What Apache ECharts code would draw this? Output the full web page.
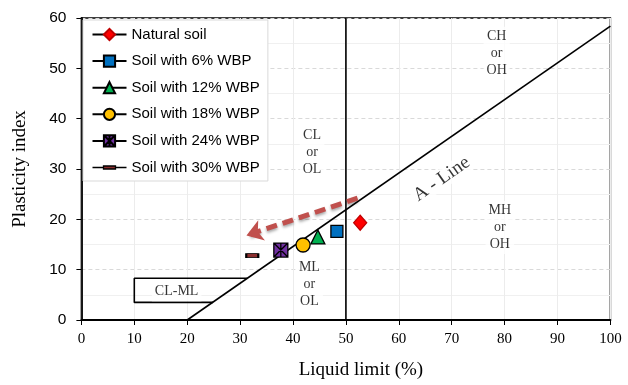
<!DOCTYPE html>
<html><head><meta charset="utf-8">
<script src="https://cdn.jsdelivr.net/npm/echarts@6/dist/echarts.min.js"></script>
<style>html,body{margin:0;padding:0;background:#fff}#c{width:628px;height:385px}</style>
</head><body><div id="c"></div>
<script>
// ---- data ----
const soilNames = ['Natural soil','Soil with 6% WBP','Soil with 12% WBP','Soil with 18% WBP','Soil with 24% WBP','Soil with 30% WBP'];
const liquidLimit = [52.7, 48.3, 44.7, 41.9, 37.7, 32.3];
const plasticityIndex = [19.3, 17.6, 16.5, 14.9, 13.9, 12.8];
const xTicks = [0,10,20,30,40,50,60,70,80,90,100];
const yTicks = [0,10,20,30,40,50,60];
const aLineLL = [20, 100];
const aLinePI = [0, 58.4];
const vLineLL = [50, 50];
const vLinePI = [0, 60];
const clmlLL = [31.4, 10, 10, 24.9];
const clmlPI = [8.3, 8.3, 3.5, 3.5];
const arrowLL = [52.2, 31.2];
const arrowPI = [24.2, 16.8];
const zoneLabels = ['CH\nor\nOH','MH\nor\nOH','CL\nor\nOL','ML\nor\nOL','CL-ML'];
const zoneLL = [78.5, 79.1, 43.6, 43.1, 18];
const zonePI = [53, 18.4, 33.3, 7, 5.6];

const symbols = [
  {symbol:'diamond', size:[13,15], color:'#FF0000', border:'#C00000'},
  {symbol:'rect', size:12, color:'#0070C0', border:'#000'},
  {symbol:'triangle', size:14, color:'#00B050', border:'#000'},
  {symbol:'circle', size:14, color:'#FFC000', border:'#000'},
  {symbol:'path://M0,0 L10,0 L10,10 L0,10 Z M0,0 L10,10 M10,0 L0,10 M5,0 L5,10', size:14, color:'#7030A0', border:'#000'},
  {symbol:'path://M0,0 L10,0 L10,3 L0,3 Z', size:[12,4], color:'#8B2E2E', border:'#000'}
];
const dashLegendIcon = 'path://M0,7 L11,7 M23,7 L34,7 M11,5.5 L23,5.5 L23,8.5 L11,8.5 Z';

const chart = echarts.init(document.getElementById('c'));
const serif = 'Liberation Serif';
const soilSeries = soilNames.map((n,i)=>({
  name:n, type:'line', data:[[liquidLimit[i], plasticityIndex[i]]],
  symbol:symbols[i].symbol, symbolSize:symbols[i].size,
  itemStyle:{color:symbols[i].color, borderColor:symbols[i].border, borderWidth:1.3, opacity:1},
  lineStyle:{color:'#000', width:1.5},
  z:5, animation:false
}));
const legendData = soilNames.map((n,i)=> i===5 ? {name:n, icon:dashLegendIcon, itemStyle:{color:symbols[5].color, borderColor:'#000', borderWidth:1.3}} : {name:n});
const lineStyleBase = {color:'#000', width:1.6};
const option = {
  animation:false,
  grid:{left:81.4, right:17.6, top:18, bottom:63.5, show:true, borderColor:'#000', borderWidth:1.5},
  legend:{
    data:legendData, orient:'vertical', left:83, top:20,
    padding:[7,8,6,8.5], itemWidth:34, itemHeight:14, itemGap:11.6,
    backgroundColor:'#fff', borderColor:'#d9d9d9', borderWidth:1,
    textStyle:{fontFamily:'Liberation Sans', fontSize:15, color:'#000', lineHeight:14, height:14}
  },
  xAxis:{
    type:'value', min:0, max:100, interval:10,
    name:'Liquid limit (%)', nameLocation:'middle', nameGap:41,
    nameTextStyle:{fontFamily:serif, fontSize:19, color:'#000', padding:[0,0,0,30]},
    axisLine:{lineStyle:{color:'#000', width:1.8}},
    axisTick:{show:true, length:5, lineStyle:{color:'#000'}},
    axisLabel:{fontFamily:serif, fontSize:15, color:'#000', margin:12, formatter:v=>xTicks.includes(v)?String(v):''},
    splitLine:{show:true, lineStyle:{color:'#ececec', width:1}}
  },
  yAxis:{
    type:'value', min:0, max:60, interval:10,
    name:'Plasticity index', nameLocation:'middle', nameGap:52,
    nameTextStyle:{fontFamily:serif, fontSize:19, color:'#000'},
    axisLine:{show:true, lineStyle:{color:'#000', width:1.8}},
    axisTick:{show:true, length:5, lineStyle:{color:'#000'}},
    axisLabel:{fontFamily:'Liberation Sans', fontSize:15.5, color:'#000', margin:15, formatter:v=>yTicks.includes(v)?String(v):''},
    splitLine:{show:true, lineStyle:{color:'#d9d9d9', type:[4,3], width:1}},
    minorTick:{show:false, splitNumber:2},
    minorSplitLine:{show:true, lineStyle:{color:'#f0f0f0', width:1}}
  },
  series:[
    {name:'A-line', type:'line', data:aLineLL.map((x,i)=>[x,aLinePI[i]]), symbol:'none', lineStyle:lineStyleBase, z:3, silent:true},
    {name:'LL50', type:'line', data:vLineLL.map((x,i)=>[x,vLinePI[i]]), symbol:'none', lineStyle:lineStyleBase, z:3, silent:true},
    {name:'CLML', type:'line', data:clmlLL.map((x,i)=>[x,clmlPI[i]]), symbol:'none', lineStyle:lineStyleBase, z:3, silent:true},
    {name:'zones', type:'scatter', symbolSize:0, z:4, silent:true,
      data:zoneLL.map((x,i)=>[x,zonePI[i],zoneLabels[i]]),
      label:{show:true, position:'inside', formatter:p=>p.data[2], fontFamily:serif, fontSize:14, lineHeight:17, color:'#000', backgroundColor:'#fff', padding:[1,3]}
    },
    {name:'aLineText', type:'scatter', symbolSize:0, z:4, silent:true,
      data:[[68.1, 28, 'A - Line']],
      label:{show:true, position:'inside', formatter:p=>p.data[2], rotate:35, fontFamily:serif, fontSize:19, color:'#000', backgroundColor:'#fff', padding:[0,2]}
    },
    {name:'arrow', type:'line', data:[], symbol:'none', z:6, silent:true,
      markLine:{silent:true, symbol:['none','arrow'], symbolSize:[16,16], label:{show:false},
        lineStyle:{color:'#C0504D', width:5, type:[11,6], shadowBlur:3, shadowColor:'rgba(0,0,0,0.35)', shadowOffsetY:2},
        data:[[{coord:[arrowLL[0],arrowPI[0]]},{coord:[arrowLL[1],arrowPI[1]]}]]}
    },
    ...soilSeries
  ]
};
chart.setOption(option);
</script></body></html>
